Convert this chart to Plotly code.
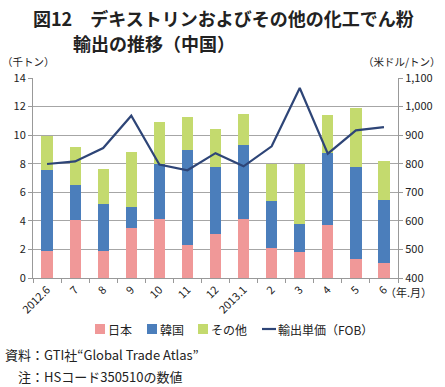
import plotly.graph_objects as go

categories = ["2012.6", "7", "8", "9", "10", "11", "12", "2013.1", "2", "3", "4", "5", "6"]
japan = [1.91, 4.08, 1.91, 3.50, 4.13, 2.33, 3.10, 4.11, 2.09, 1.83, 3.72, 1.32, 1.02]
korea_top = [7.58, 6.53, 5.20, 4.95, 8.00, 8.98, 7.75, 9.30, 5.39, 3.81, 8.78, 7.74, 5.49]
total_top = [9.94, 9.19, 7.65, 8.80, 10.94, 11.25, 10.43, 11.48, 7.95, 7.95, 11.43, 11.92, 8.18]
korea = [round(k - j, 2) for k, j in zip(korea_top, japan)]
other = [round(t - k, 2) for t, k in zip(total_top, korea_top)]
unit_price = [799, 808, 855, 968, 797, 777, 837, 791, 861, 1065, 835, 917, 928]

FONT = "Noto Sans CJK JP"
W, H = 445, 387
L, R, T, B = 33, 398, 78, 278
C_JP, C_KR, C_OT, C_LN = "#F09898", "#4B7EBB", "#C4DA6E", "#2E4577"

fig = go.Figure()
fig.add_trace(go.Bar(x=categories, y=japan, name="日本", marker=dict(color=C_JP, line=dict(width=0))))
fig.add_trace(go.Bar(x=categories, y=korea, name="韓国", marker=dict(color=C_KR, line=dict(width=0))))
fig.add_trace(go.Bar(x=categories, y=other, name="その他", marker=dict(color=C_OT, line=dict(width=0))))
fig.add_trace(go.Scatter(x=categories, y=unit_price, name="輸出単価（FOB）", mode="lines",
                         line=dict(color=C_LN, width=2.2), yaxis="y2"))

fig.update_layout(
    width=W, height=H,
    margin=dict(l=L, r=W - R, t=T, b=H - B, pad=0, autoexpand=False),
    paper_bgcolor="white", plot_bgcolor="white",
    font=dict(family=FONT, size=11, color="#222222"),
    barmode="stack", bargap=0.6,
    showlegend=False,
    xaxis=dict(type="category", tickangle=-45, showgrid=False, automargin=False,
               showline=True, linecolor="#999999", linewidth=1,
               ticks="outside", ticklen=4, tickcolor="#999999",
               tickson="boundaries", tickfont=dict(size=11, family=FONT)),
    yaxis=dict(range=[0, 14], dtick=2, showgrid=True, gridcolor="#A6A6A6", gridwidth=1,
               showline=True, linecolor="#999999", linewidth=1, ticks="outside",
               ticklen=4, tickcolor="#999999", zeroline=False, automargin=False,
               tickfont=dict(size=11, family=FONT)),
    yaxis2=dict(range=[400, 1100], dtick=100, overlaying="y", side="right",
                showgrid=False, showline=True, linecolor="#999999", linewidth=1,
                ticks="outside", ticklen=4, tickcolor="#999999", zeroline=False,
                automargin=False, tickformat=",d", tickfont=dict(size=11, family=FONT)),
)


def fx(x):
    return (x - L) / (R - L)


def fy(y):
    return (B - y) / (B - T)


def px(x, y, text, size, anchor="left"):
    fig.add_annotation(text=text, xref="paper", yref="paper",
                       x=fx(x), y=fy(y), xanchor=anchor, yanchor="middle",
                       showarrow=False,
                       font=dict(size=size, family=FONT, color="#222222"))


px(31, 18, "<b>図12　デキストリンおよびその他の化工でん粉</b>", 18)
px(71, 43, "<b>輸出の推移（中国）</b>", 18)
px(0, 62, "（千トン）", 10.5)
px(443, 62, "（米ドル/トン）", 10.5, "right")
px(383, 292, "（年.月）", 11)
px(3, 354, "資料：GTI社“Global Trade Atlas”", 13)
px(16, 376, "注：HSコード350510の数値", 13)

# legend (manual, to match placement)
legend_items = [(95, C_JP, "日本", "box"), (147, C_KR, "韓国", "box"),
                (198, C_OT, "その他", "box"), (262, C_LN, "輸出単価（FOB）", "line")]
ly = 329
for x0, col, label, kind in legend_items:
    if kind == "box":
        fig.add_shape(type="rect", xref="paper", yref="paper",
                      x0=fx(x0), x1=fx(x0 + 10), y0=fy(ly + 5), y1=fy(ly - 5),
                      fillcolor=col, line=dict(width=0))
        px(x0 + 11, ly, label, 12)
    else:
        fig.add_shape(type="line", xref="paper", yref="paper",
                      x0=fx(x0), x1=fx(x0 + 14), y0=fy(ly), y1=fy(ly),
                      line=dict(color=col, width=2.2))
        px(x0 + 14, ly, label, 12)

fig.write_html("out.html", config={"displayModeBar": False},
               post_script="document.body.style.margin='0';")
